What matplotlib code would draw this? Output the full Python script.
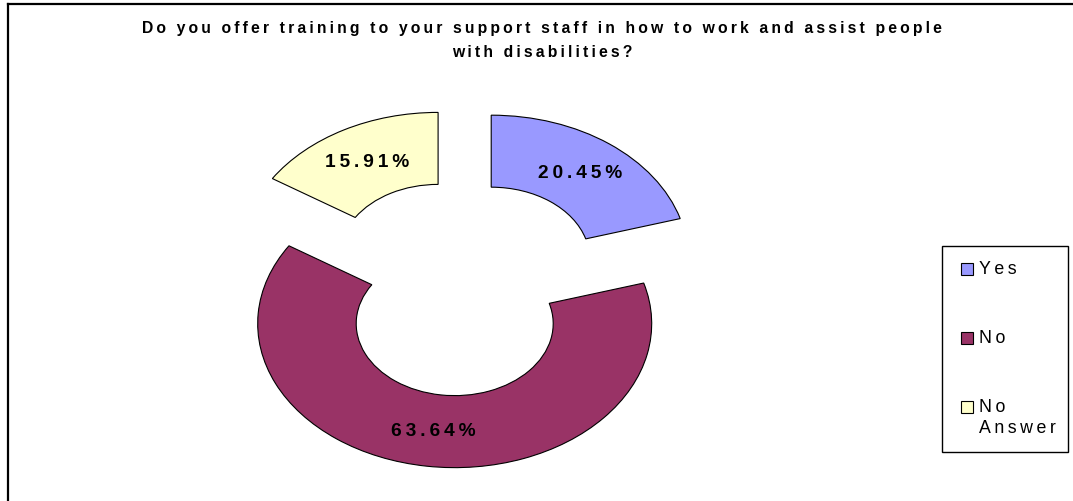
import matplotlib
matplotlib.use("Agg")
import matplotlib.pyplot as plt
from matplotlib.patches import Rectangle
from matplotlib.lines import Line2D

# Survey answers
labels = ["Yes", "No", "No Answer"]
values = [20.45, 63.64, 15.91]
colors = ["#9999FF", "#993366", "#FFFFCC"]
title_lines = [
    "Do you offer training to your support staff in how to work and assist people",
    "with disabilities?",
]

W, H = 1073, 502
FONT = ["Liberation Sans", "DejaVu Sans"]
THIN = "\u2009"


def spaced(s, sep=THIN):
    return sep.join(s)


def fx(px):
    return px / W


def fy(py):
    return 1 - py / H


fig = plt.figure(figsize=(W / 100, H / 100), dpi=100)
fig.patch.set_facecolor("white")

# Chart frame (top and left edges visible)
fig.add_artist(Line2D([fx(7.5), fx(7.5)], [fy(5), fy(H + 5)], color="black", lw=1.6,
                      transform=fig.transFigure))
fig.add_artist(Line2D([fx(7.5), fx(W + 5)], [fy(5), fy(5)], color="black", lw=1.6,
                      transform=fig.transFigure))

# Title
for i, line in enumerate(title_lines):
    fig.text(fx(542), fy(33 + 24 * i), spaced(line), ha="center", va="baseline",
             fontsize=11.3, fontweight="bold", family=FONT)

# Doughnut, squashed vertically via the axes box
cx, cy, rx, ry = 461.7, 289.0, 197.0, 144.0
lim = 1.4
ax = fig.add_axes([fx(cx - lim * rx), fy(cy + lim * ry), 2 * lim * rx / W, 2 * lim * ry / H])
wedges, texts, autotexts = ax.pie(
    values, colors=colors, startangle=90, counterclock=False,
    explode=[0.25] * len(values), radius=1.0,
    wedgeprops=dict(width=0.5, edgecolor="black", linewidth=0.8),
    autopct=lambda p: spaced(f"{p:.2f}%"), pctdistance=0.75,
    textprops=dict(fontsize=13.8, fontweight="bold", family=FONT, color="black"),
)
ax.set_aspect("auto")
ax.set_xlim(-lim, lim)
ax.set_ylim(-lim, lim)
ax.axis("off")

# Legend box
fig.add_artist(Rectangle((fx(942), fy(453)), fx(1068) - fx(942), fy(247) - fy(453),
                         transform=fig.transFigure, facecolor="white", edgecolor="black",
                         lw=1.0))
legend_y = [270, 339, 408]
for lab, col, y in zip(labels, colors, legend_y):
    fig.add_artist(Rectangle((fx(961), fy(y + 6)), fx(12), 12 / H,
                             transform=fig.transFigure, facecolor=col,
                             edgecolor="black", lw=0.8))
    for j, w in enumerate(lab.split(" ")):
        fig.text(fx(979), fy(y + 21 * j), spaced(w), ha="left", va="center",
                 fontsize=12.8, family=FONT)

fig.savefig("out.png", dpi=100, facecolor="white")
